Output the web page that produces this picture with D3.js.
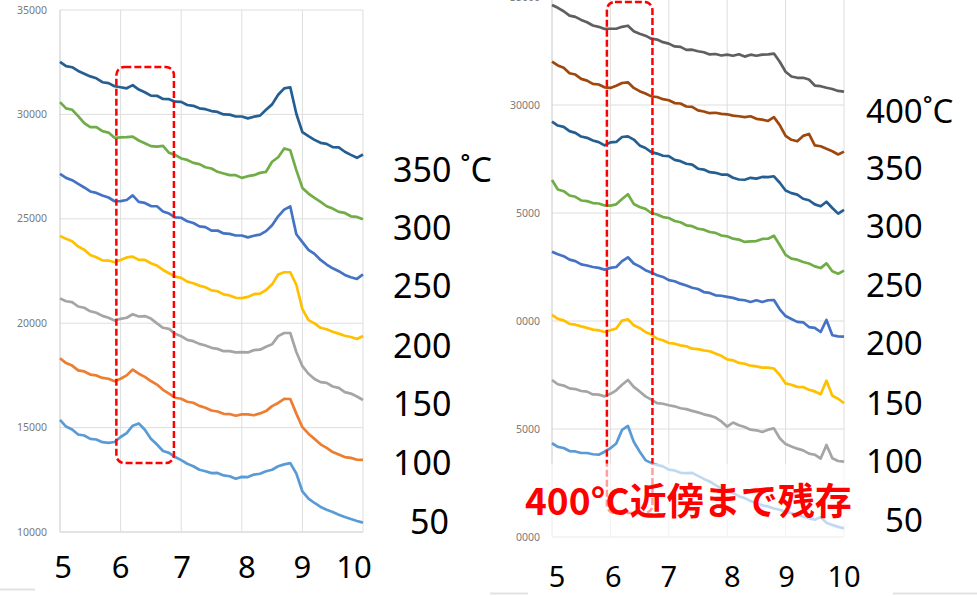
<!DOCTYPE html>
<html>
<head>
<meta charset="utf-8">
<script src="https://cdn.jsdelivr.net/npm/d3@7"></script>
<style>
  body { margin: 0; background: #fff; }
  svg { display: block; }
</style>
</head>
<body>
<svg id="chart" width="977" height="596"></svg>
<script>
// 2theta sample positions (deg), same for every pattern
var twoTheta = [5.0,5.1,5.2,5.3,5.4,5.5,5.6,5.7,5.8,5.9,6.0,6.1,6.2,6.3,6.4,6.5,6.6,6.7,6.8,6.9,
  7.0,7.1,7.2,7.3,7.4,7.5,7.6,7.7,7.8,7.9,8.0,8.1,8.2,8.3,8.4,8.5,8.6,8.7,8.8,8.9,
  9.0,9.1,9.2,9.3,9.4,9.5,9.6,9.7,9.8,9.9,10.0];

// left panel (up to 350 C)
var left350 = [32520,32310,32260,32080,31950,31820,31730,31540,31500,31350,31300,31250,31400,31190,31060,30900,30890,30740,30730,30610,30600,30450,30410,30290,30250,30160,30120,30000,29990,29900,29900,29810,29890,29940,30220,30480,30940,31250,31300,30030,29150,28960,28780,28640,28590,28430,28420,28210,28060,27920,28080];
var left300 = [30590,30290,30220,29920,29580,29390,29390,29200,29130,28880,28900,28910,28940,28750,28620,28480,28460,28490,28160,28060,27890,27820,27680,27620,27470,27410,27250,27170,27090,27090,26960,27040,27090,27200,27250,27730,27950,28370,28280,27330,26480,26210,26000,25810,25600,25490,25330,25280,25120,25090,24980];
var left250 = [27150,26960,26850,26670,26500,26310,26240,26120,26020,25840,25850,25900,26120,25810,25760,25610,25600,25350,25250,25070,25050,24880,24800,24640,24600,24430,24440,24300,24280,24200,24200,24110,24190,24240,24410,24690,25120,25440,25590,24260,23880,23510,23320,23030,22810,22630,22490,22310,22200,22120,22340];
var left200 = [24180,24040,23930,23670,23520,23270,23160,23010,23000,22920,23030,23150,23190,23030,23030,22870,22760,22550,22390,22230,22170,21990,21910,21800,21720,21570,21530,21380,21330,21220,21200,21260,21390,21420,21590,21860,22330,22440,22440,21840,20670,20150,19990,19780,19710,19590,19500,19400,19340,19240,19390];
var left150 = [21190,21050,21010,20800,20740,20570,20500,20350,20260,20130,20210,20260,20430,20320,20340,20220,19990,19780,19730,19490,19380,19200,19140,19010,18930,18820,18770,18660,18660,18600,18610,18600,18710,18730,18870,18990,19380,19530,19530,18620,17940,17580,17330,17180,17140,16970,16900,16700,16630,16490,16320];
var left100 = [18320,18090,17970,17740,17690,17540,17500,17380,17340,17220,17340,17500,17780,17580,17430,17230,17060,16810,16630,16430,16380,16240,16190,16040,15950,15820,15770,15660,15650,15570,15630,15630,15590,15680,15790,16030,16180,16380,16370,15670,15020,14710,14460,14200,14030,13830,13710,13590,13550,13460,13450];
var left50 = [15370,15050,14910,14670,14620,14460,14430,14300,14270,14310,14550,14740,15090,15200,14900,14470,14190,13880,13790,13590,13440,13270,13150,12980,12910,12820,12830,12710,12670,12550,12640,12630,12750,12790,12910,12980,13150,13240,13300,12800,11940,11600,11390,11200,11070,10960,10830,10720,10620,10530,10450];

// right panel (up to 400 C)
var right400 = [34630,34500,34340,34140,34080,33940,33830,33680,33620,33520,33530,33530,33620,33670,33410,33300,33210,33070,33030,32910,32840,32710,32690,32550,32560,32490,32440,32340,32360,32290,32330,32280,32350,32240,32330,32280,32330,32340,32380,32000,31540,31320,31260,31260,31180,30900,30870,30800,30740,30650,30620];
var right350 = [32010,31830,31720,31470,31410,31210,31130,30980,30950,30820,30790,30890,31020,31050,30790,30640,30530,30400,30370,30270,30220,30090,30070,29930,29910,29750,29700,29620,29640,29590,29570,29510,29480,29440,29480,29360,29320,29260,29440,29070,28570,28390,28320,28570,28660,28130,28090,27970,27860,27710,27840];
var right300 = [29230,29050,28990,28790,28710,28540,28480,28360,28280,28130,28270,28290,28520,28550,28400,28130,28010,27820,27750,27650,27630,27460,27400,27280,27240,27050,27010,26890,26860,26780,26780,26630,26550,26540,26630,26590,26670,26660,26700,26400,26040,25920,25850,25660,25590,25400,25310,25520,25230,24970,25140];
var right250 = [26530,26090,26010,25810,25750,25580,25550,25460,25440,25350,25340,25400,25650,25870,25420,25280,25190,25000,24930,24810,24770,24630,24570,24430,24390,24270,24230,24120,24080,23960,23920,23810,23770,23660,23690,23700,23800,23810,23950,23520,23060,22890,22840,22730,22660,22530,22450,22670,22300,22190,22330];
var right200 = [23210,23090,23000,22840,22770,22620,22570,22500,22460,22380,22460,22500,22770,22950,22660,22530,22350,22250,22120,22040,21890,21840,21730,21640,21540,21480,21340,21300,21190,21170,21120,21070,20990,20960,20880,20960,20880,20960,20970,20540,20230,20090,19960,19940,19720,19680,19490,20050,19340,19290,19280];
var right150 = [20280,20100,20030,19870,19830,19750,19680,19600,19570,19490,19570,19650,20020,20080,19800,19680,19490,19370,19180,19110,18980,18950,18870,18830,18720,18700,18640,18600,18490,18390,18220,18180,18060,18020,17930,17900,17840,17840,17800,17500,17110,17050,16950,16940,16820,16740,16610,17240,16540,16400,16190];
var right100 = [17270,17070,17010,16880,16850,16760,16730,16600,16590,16510,16630,16790,17050,17270,16950,16740,16510,16360,16200,16170,16100,16050,15960,15920,15840,15770,15680,15620,15530,15350,15110,15300,15170,15090,14970,14940,14860,14970,15030,14570,14300,14190,14090,14010,13860,13810,13630,14260,13650,13520,13490];
var right50 = [14340,14170,14120,13980,13960,13890,13890,13830,13810,13950,14110,14330,14960,15140,14410,13960,13560,13420,13340,13270,13120,13080,12970,12960,12970,12830,12690,12570,12400,12260,12140,12030,11890,11800,11670,11570,11470,11410,11320,11260,11160,11110,11010,10950,10870,10800,10920,10660,10560,10470,10400];

var xTicks = [5,6,7,8,9,10];
var yTicks = [10000,15000,20000,25000,30000,35000];
var leftYLabels = ["10000","15000","20000","25000","30000","35000"];
// right panel: leading digits are hidden in the source picture
var rightYLabels = ["0000","5000","0000","5000","30000","35000"];
var leftTemps = ["350 \u02DAC","300","250","200","150","100","50"];
var rightTemps = ["400\u02DAC","350","300","250","200","150","100","50"];
var note = "400°C近傍まで残存";

var leftColors = ["#255e91","#70ad47","#4472c4","#ffc000","#a5a5a5","#ed7d31","#5b9bd5"];
var rightColors = ["#5f5f5f","#9e480e","#255e91","#70ad47","#4472c4","#ffc000","#a5a5a5","#5b9bd5"];

var svg = d3.select("#chart");

function drawPanel(opt){
  var x = d3.scaleLinear().domain([5,10]).range(opt.xr);
  var y = d3.scaleLinear().domain([10000,35000]).range(opt.yr);
  var g = svg.append("g");

  // gridlines
  g.selectAll(".hg").data(yTicks).enter().append("line")
    .attr("x1", x(5)).attr("x2", x(10))
    .attr("y1", d => y(d)).attr("y2", d => y(d))
    .attr("stroke", d => d == 10000 ? "#c8c8c8" : "#dedede").attr("stroke-width", 1);
  g.selectAll(".vg").data(xTicks).enter().append("line")
    .attr("x1", d => x(d)).attr("x2", d => x(d))
    .attr("y1", y(35000)).attr("y2", y(10000))
    .attr("stroke", d => d == 5 ? "#c8c8c8" : "#dedede").attr("stroke-width", 1);

  // small y labels
  g.selectAll(".yl").data(yTicks).enter().append("text")
    .attr("x", x(5) - opt.pad).attr("y", d => y(d))
    .attr("dy", "0.35em").attr("text-anchor", "end")
    .attr("font-family", "Noto Sans, sans-serif").attr("font-size", 10.5)
    .attr("fill", "#7a7a7a")
    .text((d, i) => opt.yLabels[i]);

  var line = d3.line()
    .x((d, i) => x(twoTheta[i]))
    .y(d => y(d));

  g.selectAll(".pat").data(opt.series).enter().append("path")
    .attr("d", d => line(d))
    .attr("fill", "none")
    .attr("stroke", (d, i) => opt.colors[i])
    .attr("stroke-width", 2.7)
    .attr("stroke-linejoin", "round");

  // red dashed box
  g.append("rect")
    .attr("x", x(opt.box[0])).attr("y", y(opt.box[3]))
    .attr("width", x(opt.box[1]) - x(opt.box[0]))
    .attr("height", y(opt.box[2]) - y(opt.box[3]))
    .attr("rx", 8).attr("fill", "none")
    .attr("stroke", "#ff0000").attr("stroke-width", 2.5)
    .attr("stroke-dasharray", "7,3");

  // big x labels
  g.selectAll(".xl").data(xTicks).enter().append("text")
    .attr("x", (d, i) => x(d) + opt.xdx[i]).attr("y", opt.xBase)
    .attr("text-anchor", "middle")
    .attr("font-family", "Noto Sans, sans-serif").attr("font-size", opt.xSize)
    .attr("fill", "#000")
    .text(d => d);

  return {x: x, y: y, g: g};
}

var L = drawPanel({
  xr: [60, 363], yr: [532, 10], pad: 13,
  yLabels: leftYLabels,
  series: [left350,left300,left250,left200,left150,left100,left50],
  colors: leftColors,
  box: [5.93, 6.88, 13300, 32270],
  xdx: [3, 0, 1, 5, 0, -9], xBase: 578, xSize: 31
});

var R = drawPanel({
  xr: [552, 844], yr: [537, -3], pad: 12,
  yLabels: rightYLabels,
  series: [right400,right350,right300,right250,right200,right150,right100,right50],
  colors: rightColors,
  box: [5.94, 6.72, 11110, 34770],
  xdx: [5, 3, 0, 5, 1, 0], xBase: 587, xSize: 29
});

// translucent text box + red note
R.g.append("rect")
  .attr("x", R.x(4.93)).attr("y", R.y(13400))
  .attr("width", R.x(10.24) - R.x(4.93))
  .attr("height", R.y(9900) - R.y(13400))
  .attr("fill", "#fff").attr("fill-opacity", 0.62);
R.g.append("text")
  .attr("x", 525).attr("y", 515)
  .attr("font-family", "Noto Sans CJK JP, sans-serif")
  .attr("font-weight", "bold").attr("font-size", 37)
  .attr("fill", "#ff0000")
  .text(note);

// temperature labels
var leftBase = [182,240,298,358,416,475,534];
svg.selectAll(".lt").data(leftTemps).enter().append("text")
  .attr("x", (d, i) => i == 6 ? 410 : 393).attr("y", (d, i) => leftBase[i])
  .attr("font-family", "Noto Sans, sans-serif").attr("font-size", 34)
  .attr("fill", "#000").text(d => d);

var rightBase = [123,180,238,297,355,415,473,532];
svg.selectAll(".rt").data(rightTemps).enter().append("text")
  .attr("x", (d, i) => i == 7 ? 885 : 866).attr("y", (d, i) => rightBase[i])
  .attr("font-family", "Noto Sans, sans-serif").attr("font-size", 33)
  .attr("fill", "#000").text(d => d);

// slide edge remnants
svg.append("line").attr("x1", 0).attr("x2", 35).attr("y1", 589.5).attr("y2", 589.5)
  .attr("stroke", "#e2e2e2").attr("stroke-width", 2);
svg.append("line").attr("x1", 490).attr("x2", 528).attr("y1", 593.5).attr("y2", 593.5)
  .attr("stroke", "#e2e2e2").attr("stroke-width", 2);
svg.append("line").attr("x1", 893).attr("x2", 977).attr("y1", 593.5).attr("y2", 593.5)
  .attr("stroke", "#e2e2e2").attr("stroke-width", 2);
</script>
</body>
</html>
